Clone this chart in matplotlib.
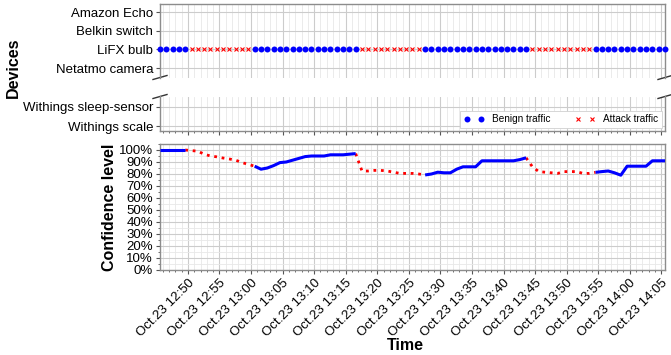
import numpy as np
import pandas as pd
import matplotlib
matplotlib.use("Agg")
import matplotlib.pyplot as plt
import matplotlib.dates as mdates
from matplotlib.ticker import MultipleLocator, PercentFormatter
from matplotlib.lines import Line2D

plt.rcParams['font.family'] = ['Liberation Sans', 'DejaVu Sans']

# Devices (broken axis: upper group / lower group)
upper_devices = ["Netatmo camera", "LiFX bulb", "Belkin switch", "Amazon Echo"]
lower_devices = ["Withings scale", "Withings sleep-sensor"]
observed_device = "LiFX bulb"

# Traffic runs observed on the LiFX bulb, one sample per minute
runs = [("benign", 5), ("attack", 10), ("benign", 17), ("attack", 10),
        ("benign", 17), ("attack", 10), ("benign", 12)]

# Confidence level (%) per sample
confidence = [100, 100, 100, 100, 100,
              99.5, 99, 96.5, 95, 94.3, 93.3, 92.5, 91.5, 89.5, 88,
              86.5, 84, 85, 87, 89.5, 90, 91.5, 93, 94.5, 95, 95, 95, 96, 96, 96, 96.5, 97,
              82.5, 82.5, 83, 83, 82.5, 81.5, 80.5, 80.5, 80.5, 80,
              79.2, 80, 81.5, 81, 81, 84, 86, 86, 86, 91, 91, 91, 91, 91, 91, 92, 93.5,
              86, 82, 81.5, 81, 80.5, 82, 82, 82, 80.5, 80.5,
              81.4, 82, 82.5, 81, 79, 86.5, 86.5, 86.5, 86.5, 91, 91, 91]

start_time = "2019-10-23 12:45:35"
times = pd.date_range(start_time, periods=len(confidence), freq="1min")
conf = np.array(confidence) / 100.0

kinds = []
for kind, n in runs:
    kinds += [kind] * n
kinds = np.array(kinds)

fig = plt.figure(figsize=(6.71, 3.55), dpi=100)
W, H = 671, 355

def box(x0, y0, x1, y1):
    return [x0 / W, 1 - y1 / H, (x1 - x0) / W, (y1 - y0) / H]

ax_up = fig.add_axes(box(160, 4, 665, 77.5))
ax_lo = fig.add_axes(box(160, 96.5, 665, 131), sharex=ax_up)
ax = fig.add_axes(box(160, 144, 665, 270), sharex=ax_up)

spine_col = "#8c8c8c"
major_grid = dict(color="#cccccc", lw=0.8)
minor_grid = dict(color="#e8e8e8", lw=0.6)

for a in (ax_up, ax_lo, ax):
    for s in a.spines.values():
        s.set_color(spine_col)
        s.set_linewidth(1.0)
    a.xaxis.set_major_locator(mdates.MinuteLocator(byminute=range(0, 60, 5)))
    a.xaxis.set_minor_locator(mdates.MinuteLocator())
    a.grid(True, which="major", **major_grid)
    a.grid(True, which="minor", axis="x", **minor_grid)
    a.tick_params(axis="both", which="major", length=3, color="#555555", labelsize=9.5, pad=2)
    a.tick_params(axis="both", which="minor", length=1.5, color="#555555")
    a.set_axisbelow(True)

# device panel
ax_up.spines["bottom"].set_visible(False)
ax_lo.spines["top"].set_visible(False)
ax_up.tick_params(axis="x", which="both", bottom=False, labelbottom=False)
ax_lo.tick_params(axis="x", which="both", labelbottom=False)

ax_up.set_yticks(range(len(upper_devices)))
ax_up.set_yticklabels(upper_devices)
ax_up.set_ylim(-0.5, 3.43)
ax_lo.set_yticks(range(len(lower_devices)))
ax_lo.set_yticklabels(lower_devices)
ax_lo.set_ylim(-0.26, 1.55)

ypos = upper_devices.index(observed_device)
ben = kinds == "benign"
att = kinds == "attack"
ax_up.plot(times[ben], np.full(ben.sum(), ypos), "o", color="blue", ms=4.3, mew=0, clip_on=False, zorder=3)
ax_up.plot(times[att], np.full(att.sum(), ypos), "x", color="red", ms=3.0, mew=0.8, clip_on=False, zorder=3)

handles = [Line2D([], [], ls="none", marker="o", color="blue", ms=4.3, mew=0),
           Line2D([], [], ls="none", marker="x", color="red", ms=3.0, mew=0.8)]
leg = ax_lo.legend(handles, ["Benign traffic", "Attack traffic"], loc="lower right",
                   ncol=2, numpoints=2, fontsize=7.2, fancybox=False, framealpha=1,
                   edgecolor="#d0d0d0", borderaxespad=0.3, handletextpad=0.8,
                   columnspacing=2.5, borderpad=0.35)
leg.get_frame().set_linewidth(0.6)

# break marks
def brk(a, y_axes, ah_px):
    dx = 7 / 505
    dy = 2 / ah_px
    for x in (0, 1):
        a.plot([x - dx, x + dx], [y_axes - dy, y_axes + dy], transform=a.transAxes,
               color="#333333", lw=1.0, clip_on=False)

brk(ax_up, 0, 73.5)
brk(ax_lo, 1, 34.5)

# confidence panel
pos = 0
for kind, n in runs:
    s, e = pos, pos + n
    if kind == "benign":
        ax.plot(times[s:e], conf[s:e], color="blue", lw=2.2, solid_capstyle="butt", zorder=3)
    else:
        a0, b0 = max(s - 1, 0), min(e + 1, len(times))
        ax.plot(times[a0:b0], conf[a0:b0], color="red", lw=2.0, ls=(0, (1, 1.7)), zorder=2)
    pos = e

ax.set_ylim(0, 1.05)
ax.yaxis.set_major_locator(MultipleLocator(0.1))
ax.yaxis.set_minor_locator(MultipleLocator(0.05))
ax.yaxis.set_major_formatter(PercentFormatter(1.0, decimals=0))
ax.grid(True, which="minor", axis="y", **minor_grid)
ax.set_xlim(times[0], times[-1])
ax.xaxis.set_major_formatter(mdates.DateFormatter("Oct.23 %H:%M"))
for lbl in ax.get_xticklabels():
    lbl.set_rotation(45)
    lbl.set_ha("right")
    lbl.set_va("top")
    lbl.set_rotation_mode("anchor")

fig.text(13 / W, 1 - 67.5 / H, "Devices", rotation=90, ha="center", va="center",
         fontsize=11.5, fontweight="bold")
fig.text(110 / W, 1 - 207 / H, "Confidence level", rotation=90, ha="center", va="center",
         fontsize=11.5, fontweight="bold")
fig.text(405 / W, 1 - 345 / H, "Time", ha="center", va="center",
         fontsize=11.5, fontweight="bold")

fig.savefig("out.png", dpi=100)
